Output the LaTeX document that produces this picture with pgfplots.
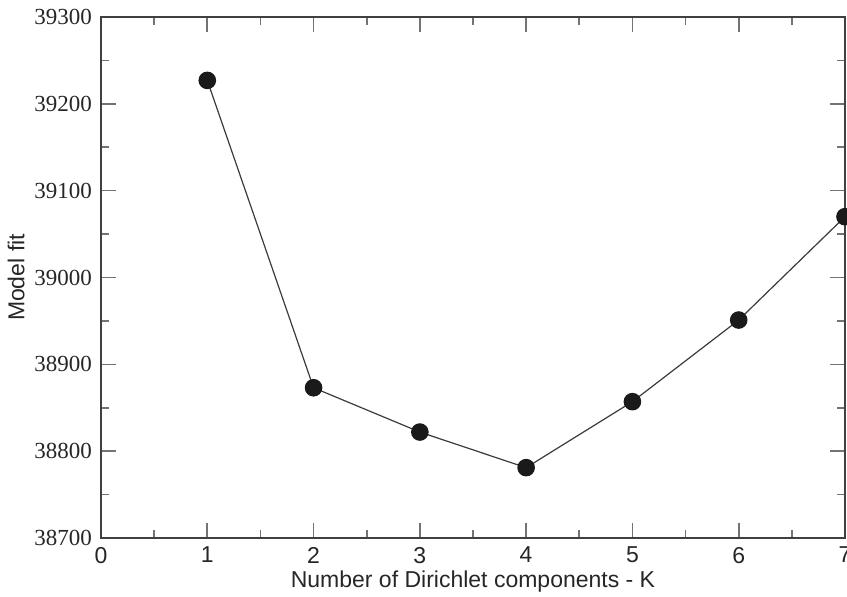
\documentclass[border=0pt]{standalone}
\usepackage{fontspec}
\setmainfont{Liberation Serif}
\newfontfamily\arialfont{Liberation Sans}
\usepackage{pgfplots}
\pgfplotsset{compat=1.18}
\definecolor{fitline}{HTML}{3A3A3A}
\definecolor{fitmark}{HTML}{1A1A1A}
\begin{document}
\begin{tikzpicture}
\begin{axis}[
    at={(0,0)}, anchor=south west,
    scale only axis,
    width=372pt, height=260.5pt,
    xmin=0, xmax=7, ymin=38700, ymax=39300,
    xtick={0,1,...,7},
    ytick={38700,38800,...,39300},
    minor x tick num=1,
    minor y tick num=1,
    tick align=inside,
    major tick length=7.5pt,
    minor tick length=4pt,
    axis line style={line width=0.8pt, color=black!75},
    every tick/.style={line width=0.8pt, color=black!55},
    clip=false,
    /pgf/number format/assume math mode=true,
    scaled y ticks=false,
    yticklabel style={/pgf/number format/1000 sep={}, font=\fontsize{11.5}{12}\selectfont, xshift=-1pt, text=black!85},
    xticklabel style={font=\arialfont\fontsize{11.5}{12}\selectfont, yshift=-1pt, text=black!85},
    xlabel={Number of Dirichlet components - K},
    ylabel={Model fit},
    label style={font=\arialfont\fontsize{11.5}{12}\selectfont, text=black!85},
    xlabel style={yshift=3pt},
    ylabel style={yshift=-2pt},
]
\addplot[color=fitline, line width=0.6pt, mark=*, mark size=4.1pt,
    mark options={fill=fitmark, draw=fitmark}] coordinates {
    (1, 39227)
    (2, 38873)
    (3, 38822)
    (4, 38781)
    (5, 38857)
    (6, 38951)
    (7, 39070)
};
\end{axis}
\pgfresetboundingbox
\path (-50.5pt,-29.5pt) rectangle (373pt,269pt);
\end{tikzpicture}
\end{document}
